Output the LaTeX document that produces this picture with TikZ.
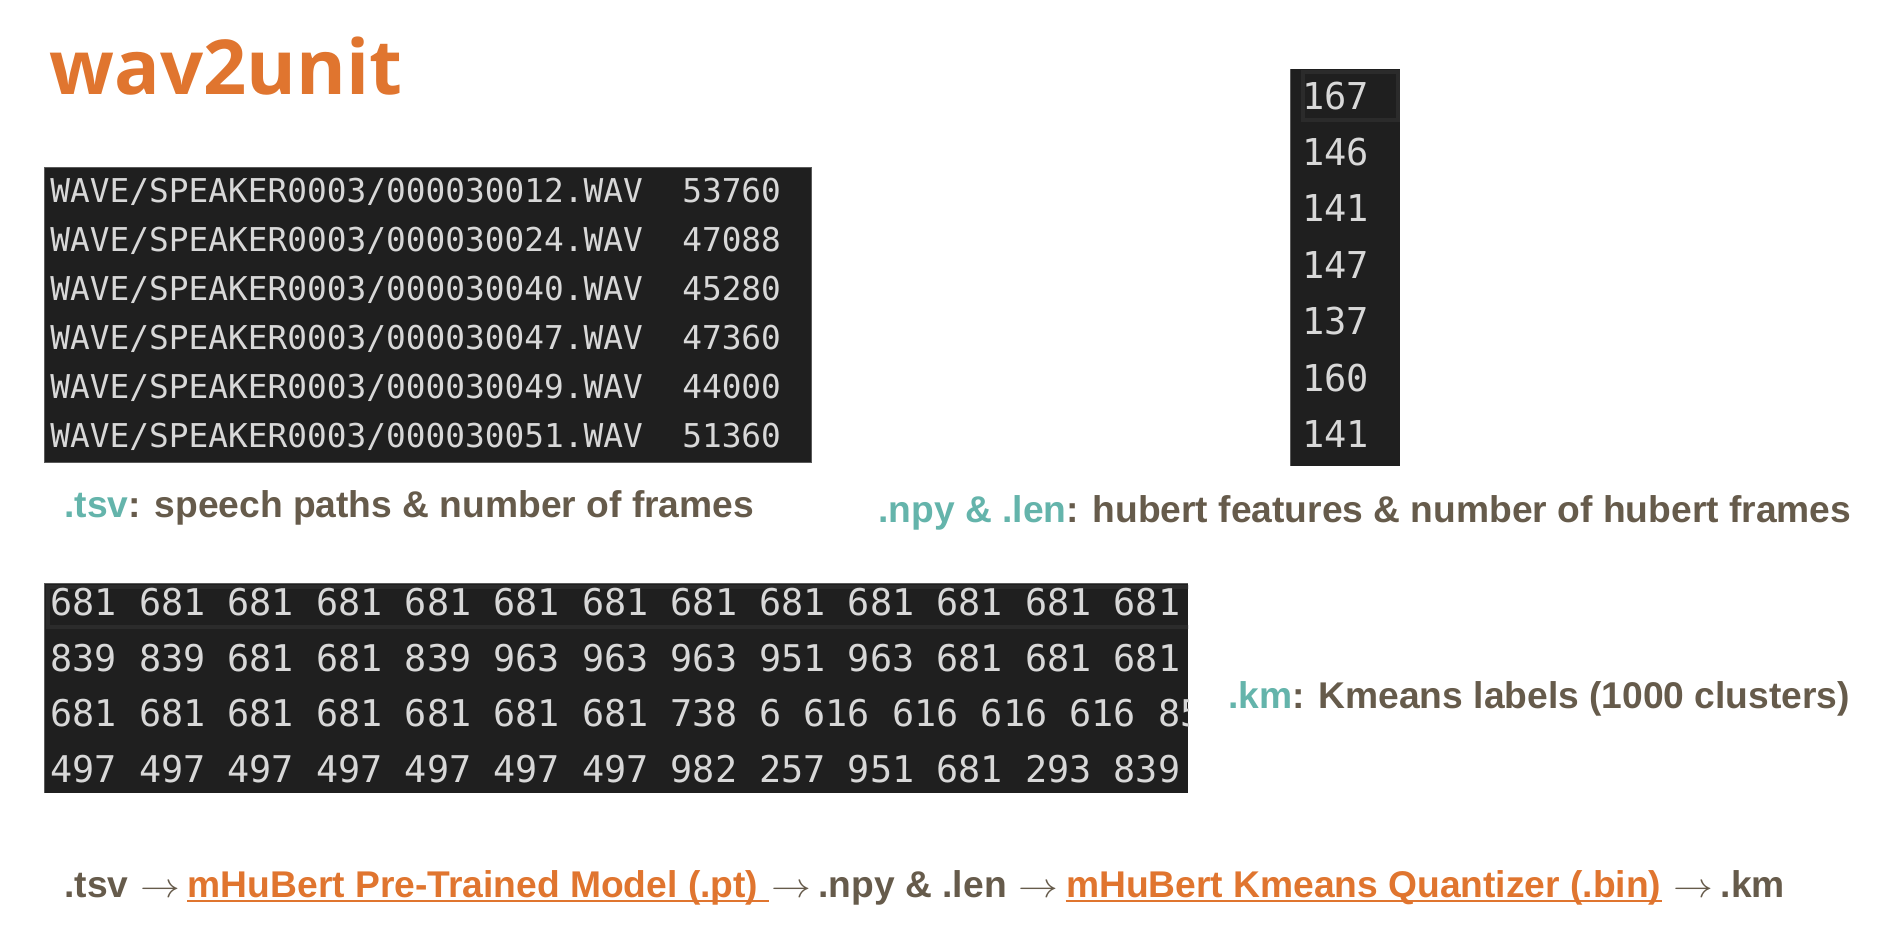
\documentclass[tikz,border=0pt]{standalone}
\usepackage{fontspec}
\usepackage{tikz}
\usetikzlibrary{positioning}
\setmainfont{Liberation Sans}
\setmonofont{DejaVu Sans Mono}
\newfontfamily\headfont{Open Sans}
\definecolor{unitorange}{HTML}{E0752F}
\definecolor{unitteal}{HTML}{64B4AB}
\definecolor{unitbrown}{HTML}{665B4B}
\definecolor{codebg}{HTML}{1F1F1F}
\definecolor{codefg}{HTML}{D8D8D8}
\definecolor{codeline}{HTML}{2B2B2B}
\definecolor{codeedge}{HTML}{5A5A5A}
\newcommand{\flowto}{\scalebox{1.15}[1]{$\rightarrow$}}

\begin{document}
\begin{tikzpicture}[x=0.5pt,y=-0.5pt]
\tikzstyle{every node}+=[inner sep=0pt]
\tikzstyle{tsvrow}=[anchor=base west, text=codefg, font=\ttfamily\fontsize{16.4}{16.4}\selectfont]
\tikzstyle{lenrow}=[anchor=base west, text=codefg, font=\ttfamily\fontsize{18.5}{18.5}\selectfont]
\tikzstyle{kmrow}=[anchor=base west, text=codefg, font=\ttfamily\fontsize{18.4}{18.4}\selectfont]
\tikzstyle{caption}=[anchor=base west, text=unitbrown, font=\bfseries\fontsize{18.6}{18.6}\selectfont]
\tikzstyle{link}=[caption, text=unitorange]
\tikzstyle{flowarrow}=[caption, font=\mdseries\fontsize{18.6}{18.6}\selectfont]
\useasboundingbox (0,0) rectangle (1882,944);
\fill [white] (0,0) rectangle (1882,944);
\node [anchor=base west, text=unitorange, font=\headfont\bfseries\fontsize{37.9}{37.9}\selectfont] (title) at (49,94) {wav2unit};
\draw [codeedge, fill=codebg, line width=0.5pt] (44,167) rectangle (811,462);
\node [tsvrow] (tsva) at (50,202) {WAVE/SPEAKER0003/000030012.WAV\ \ 53760};
\node [tsvrow] (tsvb) at (50,251) {WAVE/SPEAKER0003/000030024.WAV\ \ 47088};
\node [tsvrow] (tsvc) at (50,300) {WAVE/SPEAKER0003/000030040.WAV\ \ 45280};
\node [tsvrow] (tsvd) at (50,349) {WAVE/SPEAKER0003/000030047.WAV\ \ 47360};
\node [tsvrow] (tsve) at (50,398) {WAVE/SPEAKER0003/000030049.WAV\ \ 44000};
\node [tsvrow] (tsvf) at (50,447) {WAVE/SPEAKER0003/000030051.WAV\ \ 51360};
\node [caption] (tsvcap) at (64,517) {\textcolor{unitteal}{.tsv}: speech paths \& number of frames};
\fill [codebg] (1290,69) rectangle (1400,466);
\draw [codeedge, line width=0.5pt] (1290,69) -- (1290,466);
\draw [codeline, line width=2pt] (1303,72) rectangle (1398,120);
\node [lenrow] (lena) at (1302,109) {167};
\node [lenrow] (lenb) at (1302,165) {146};
\node [lenrow] (lenc) at (1302,221) {141};
\node [lenrow] (lend) at (1302,278) {147};
\node [lenrow] (lene) at (1302,334) {137};
\node [lenrow] (lenf) at (1302,391) {160};
\node [lenrow] (leng) at (1302,447) {141};
\node [caption] (npycap) at (878,522) {\textcolor{unitteal}{.npy \& .len}: hubert features \& number of hubert frames};
\fill [codebg] (44,583) rectangle (1188,793);
\draw [codeedge, line width=0.5pt] (44,793) -- (44,583) -- (1188,583);
\begin{scope}
\clip (44,583) rectangle (1188,793);
\draw [codeline, line width=2pt] (48,587) rectangle (1194,627);
\node [kmrow] (kma) at (50,615) {681 681 681 681 681 681 681 681 681 681 681 681 681};
\node [kmrow] (kmb) at (50,671) {839 839 681 681 839 963 963 963 951 963 681 681 681};
\node [kmrow] (kmc) at (50,726) {681 681 681 681 681 681 681 738 6 616 616 616 616 85};
\node [kmrow] (kmd) at (50,782) {497 497 497 497 497 497 497 982 257 951 681 293 839};
\end{scope}
\node [caption] (kmcap) at (1228,708) {\textcolor{unitteal}{.km}: Kmeans labels (1000 clusters)};
\node [caption] (flowtsv) at (64,897) {.tsv};
\node [flowarrow, base right=5.5pt of flowtsv] (arrowa) {\flowto};
\node [link, base right=3.5pt of arrowa] (ptmodel) {mHuBert Pre-Trained Model (.pt)};
\node [flowarrow, base right=6pt of ptmodel] (arrowb) {\flowto};
\node [caption, base right=3.5pt of arrowb] (flownpy) {.npy \& .len};
\node [flowarrow, base right=5.5pt of flownpy] (arrowc) {\flowto};
\node [link, base right=3.5pt of arrowc] (kmquant) {mHuBert Kmeans Quantizer (.bin)};
\node [flowarrow, base right=5.5pt of kmquant] (arrowd) {\flowto};
\node [caption, base right=3.5pt of arrowd] (flowkm) {.km};
\draw [unitorange, line width=1.25pt] ([yshift=-2pt]ptmodel.base west) -- ([xshift=5pt, yshift=-2pt]ptmodel.base east);
\draw [unitorange, line width=1.25pt] ([yshift=-2pt]kmquant.base west) -- ([yshift=-2pt]kmquant.base east);
\end{tikzpicture}
\end{document}
